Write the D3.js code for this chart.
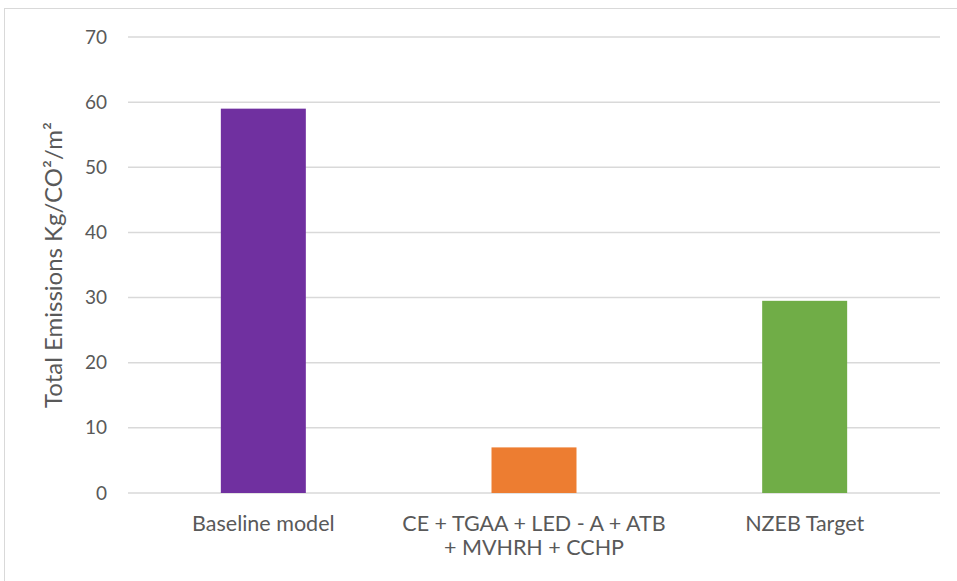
<!DOCTYPE html>
<html><head><meta charset="utf-8">
<script src="https://cdn.jsdelivr.net/npm/d3@7"></script>
<style>body{margin:0;background:#fff;}svg{display:block;}</style>
</head><body>
<svg id="chart" width="957" height="581"></svg>
<script>
const categories = [["Baseline model"], ["CE + TGAA + LED - A + ATB", "+ MVHRH + CCHP"], ["NZEB Target"]];
const values = [59, 7, 29.5];
const colors = ["#7030a0", "#ed7d31", "#70ad47"];
const yTicks = [0, 10, 20, 30, 40, 50, 60, 70];
const yLabel = "Total Emissions Kg/CO²/m²";

(function () {
const svg = d3.select("#chart");
const font = "Lato, 'Open Sans', sans-serif";
// outer border
svg.append("rect").attr("x", 4.5).attr("y", 8.5).attr("width", 960).attr("height", 580)
  .attr("fill", "none").attr("stroke", "#d9d9d9").attr("stroke-width", 1);

const pL = 128, pR = 940, pT = 37, pB = 493;
const x = d3.scaleBand().domain(d3.range(categories.length)).range([pL, pR]).padding(0);
const y = d3.scaleLinear().domain([0, 70]).range([pB, pT]);

const g = svg.append("g");
// gridlines
g.selectAll("line.grid").data(yTicks).join("line")
  .attr("x1", pL).attr("x2", pR)
  .attr("y1", d => y(d)).attr("y2", d => y(d))
  .attr("stroke", "#d9d9d9").attr("stroke-width", 1.5);

// y axis labels
const yAxis = d3.axisLeft(y).tickValues(yTicks).tickSize(0).tickPadding(0);
const ya = svg.append("g").attr("transform", `translate(107,0)`).call(yAxis);
ya.select(".domain").remove();
ya.selectAll("text").attr("font-family", font).attr("font-size", 19).attr("fill", "#595959");

// bars
const barW = x.bandwidth() * 0.314;
g.selectAll("rect.bar").data(values).join("rect")
  .attr("x", (d, i) => x(i) + x.bandwidth() / 2 - barW / 2)
  .attr("y", d => y(d))
  .attr("width", barW)
  .attr("height", d => y(0) - y(d))
  .attr("fill", (d, i) => colors[i]);

// category labels (one text element per line)
const cl = svg.append("g");
categories.forEach((lines, i) => {
  lines.forEach((ln, j) => {
    cl.append("text").attr("text-anchor", "middle")
      .attr("font-family", font).attr("font-size", 21.5).attr("fill", "#595959")
      .attr("x", x(i) + x.bandwidth() / 2).attr("y", 531 + j * 24).text(ln);
  });
});

// y-axis title
svg.append("text")
  .attr("transform", `translate(62,265) rotate(-90)`)
  .attr("text-anchor", "middle")
  .attr("font-family", font).attr("font-size", 24).attr("fill", "#595959")
  .text(yLabel);
})();
</script>
</body></html>
